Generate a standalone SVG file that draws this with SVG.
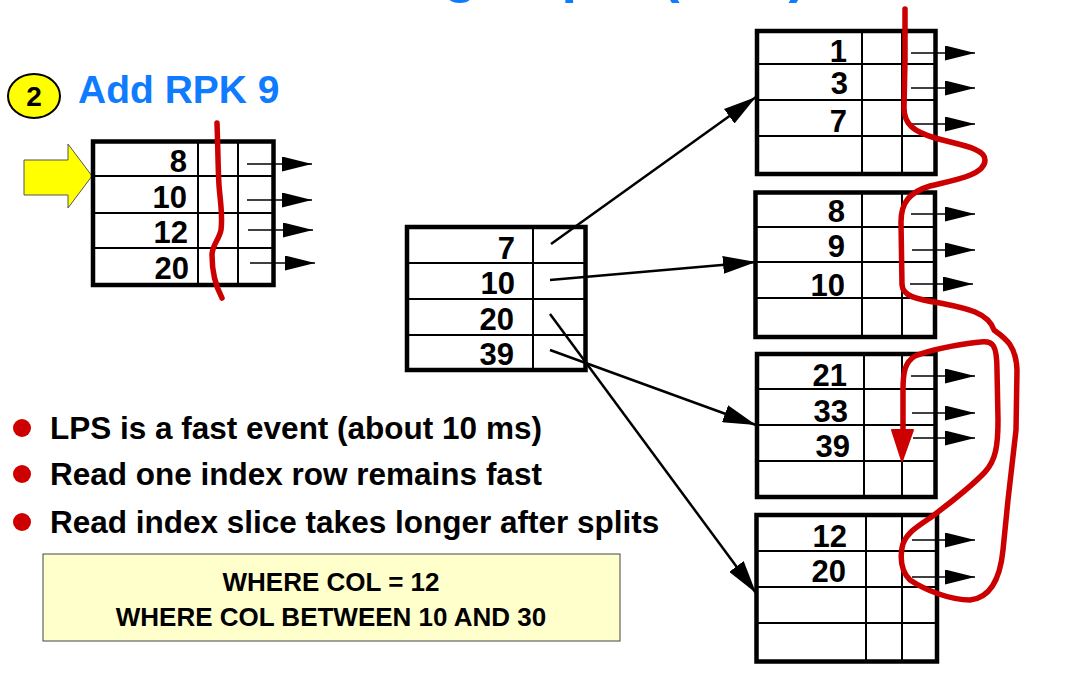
<svg xmlns="http://www.w3.org/2000/svg" width="1073" height="677" viewBox="0 0 1073 677">
  <defs>
    <style>
      .title { font-family: "Liberation Sans", Arial, sans-serif; font-weight: bold; fill: #0F7BFF; }
      .num { font-family: "Liberation Sans", Arial, sans-serif; font-weight: bold; font-size: 31px; fill: #000; text-anchor: end; }
      .txt { font-family: "Liberation Sans", Arial, sans-serif; font-weight: bold; fill: #000; }
      .frame { fill: #fff; stroke: #000; stroke-width: 4.5; }
      .grid { stroke: #000; stroke-width: 2; fill: none; }
      .link { stroke: #000; stroke-width: 2.5; fill: none; marker-end: url(#bigHead); }
      .ptr { stroke: #000; stroke-width: 1.5; fill: none; marker-end: url(#smallHead); }
      .pen { stroke: #CC0000; stroke-width: 5.5; fill: none; stroke-linecap: round; stroke-linejoin: round; }
    </style>
    <marker id="bigHead" markerUnits="userSpaceOnUse" markerWidth="34" markerHeight="18" refX="33" refY="9" orient="auto">
      <path d="M0,0 L33,9 L0,18 Z" fill="#000"/>
    </marker>
    <marker id="smallHead" markerUnits="userSpaceOnUse" markerWidth="31" markerHeight="16" refX="30" refY="7.5" orient="auto">
      <path d="M0,0 L30,7.5 L0,15 Z" fill="#000"/>
    </marker>
  </defs>

  <rect width="1073" height="677" fill="#fff"/>

  <!-- heading, mostly above the top edge -->
  <text class="title" x="244" y="-9" font-size="56">Leaf Page Split (LPS)</text>

  <!-- step badge and caption -->
  <g id="step-badge">
    <ellipse cx="34" cy="96" rx="26" ry="22" fill="#FFFF00" stroke="#000" stroke-width="2"/>
    <text class="txt" x="34" y="106" font-size="28" text-anchor="middle">2</text>
  </g>
  <text class="title" x="78" y="103" font-size="39">Add RPK 9</text>

  <!-- insert pointer -->
  <g id="insert-arrow">
    <polygon points="24,160 68,160 68,144 92,176 68,208 68,195 24,195" fill="#FFFF00" stroke="#555" stroke-width="1"/>
  </g>

  <!-- page receiving the new key -->
  <g id="page-insert">
    <rect class="frame" x="93" y="141.5" width="180.5" height="143.5"/>
    <path class="grid" d="M93,176 H273.5 M93,213 H273.5 M93,248 H273.5 M198,141.5 V285 M238,141.5 V285"/>
    <text class="num" x="187" y="172">8</text>
    <text class="num" x="187" y="208">10</text>
    <text class="num" x="188" y="243">12</text>
    <text class="num" x="189" y="279">20</text>
    <line class="ptr" x1="247" y1="164" x2="312" y2="164"/>
    <line class="ptr" x1="247" y1="200" x2="312" y2="200"/>
    <line class="ptr" x1="248" y1="230" x2="313" y2="230"/>
    <line class="ptr" x1="250" y1="263" x2="315" y2="263"/>
  </g>

  <!-- non-leaf page -->
  <g id="page-nonleaf">
    <rect class="frame" x="407" y="227" width="178.5" height="143"/>
    <path class="grid" d="M407,263 H585.5 M407,299 H585.5 M407,335 H585.5 M533,227 V370"/>
    <text class="num" x="515" y="259">7</text>
    <text class="num" x="515" y="294">10</text>
    <text class="num" x="514" y="330">20</text>
    <text class="num" x="514" y="365">39</text>
  </g>

  <!-- leaf pages -->
  <g id="leaf-1">
    <rect class="frame" x="757" y="31" width="178.5" height="143"/>
    <path class="grid" d="M757,64 H935.5 M757,100 H935.5 M757,136 H935.5 M862,31 V174 M902,31 V174"/>
    <text class="num" x="847" y="62">1</text>
    <text class="num" x="848" y="94">3</text>
    <text class="num" x="847" y="132">7</text>
    <line class="ptr" x1="911" y1="53" x2="975" y2="53"/>
    <line class="ptr" x1="911" y1="88" x2="975" y2="88"/>
    <line class="ptr" x1="911" y1="124" x2="975" y2="124"/>
  </g>

  <g id="leaf-2">
    <rect class="frame" x="755.5" y="192.5" width="179.5" height="144.5"/>
    <path class="grid" d="M755.5,227 H935 M755.5,262 H935 M755.5,298 H935 M862,192.5 V337 M902,192.5 V337"/>
    <text class="num" x="845" y="222">8</text>
    <text class="num" x="845" y="257">9</text>
    <text class="num" x="845" y="296">10</text>
    <line class="ptr" x1="911" y1="214" x2="975" y2="214"/>
    <line class="ptr" x1="912" y1="250" x2="975" y2="250"/>
    <line class="ptr" x1="910" y1="284" x2="973" y2="284"/>
  </g>

  <g id="leaf-3">
    <rect class="frame" x="757" y="354" width="178.5" height="143"/>
    <path class="grid" d="M757,389 H935.5 M757,425 H935.5 M757,461 H935.5 M864,354 V497 M902,354 V497"/>
    <text class="num" x="847" y="386">21</text>
    <text class="num" x="848" y="422">33</text>
    <text class="num" x="850" y="457">39</text>
    <line class="ptr" x1="911" y1="376" x2="975" y2="376"/>
    <line class="ptr" x1="912" y1="413" x2="975" y2="413"/>
    <line class="ptr" x1="913" y1="438" x2="975" y2="438"/>
  </g>

  <g id="leaf-4">
    <rect class="frame" x="756.5" y="515" width="180.5" height="146.5"/>
    <path class="grid" d="M756.5,551 H937 M756.5,587 H937 M756.5,623 H937 M866,515 V661.5 M902,515 V661.5"/>
    <text class="num" x="847" y="547">12</text>
    <text class="num" x="846" y="582">20</text>
    <line class="ptr" x1="912" y1="540" x2="975" y2="540"/>
    <line class="ptr" x1="912" y1="577" x2="975" y2="577"/>
  </g>

  <!-- pointers from the non-leaf page to the leaves -->
  <g id="connectors">
    <line class="link" x1="551" y1="244" x2="756" y2="97"/>
    <line class="link" x1="550" y1="280" x2="756" y2="262"/>
    <line class="link" x1="550" y1="314" x2="756" y2="593"/>
    <line class="link" x1="550" y1="350" x2="756" y2="425"/>
  </g>

  <!-- hand-drawn scan paths -->
  <g id="scan-marks">
    <path class="pen" d="M217,123 C218,150 218,170 219,185 C220,200 223,215 221,230 C219,240 212,245 212,255 C212,268 215,285 222,298"/>
    <path class="pen" d="M905,9 L905,60 L904,108 C904,125 915,132 935,138 C960,145 985,148 985,160 C985,175 955,180 930,186 C910,192 901,202 901,222 L902,285 C903,296 915,299 940,303 C965,308 988,312 994,330 C1005,338 1016,345 1017,370 L1016,430 L1008,500 L1003,550 C1000,580 990,598 970,600 C950,600 925,590 910,580 C902,572 900,560 902,548 C904,535 915,528 930,518 C950,503 970,488 985,472 C996,460 998,445 998,420 L997,370 C997,345 993,340 980,342 C955,345 930,350 915,356 C905,362 903,372 903,390 L903,432"/>
    <polygon points="892,430 913,430 902,461" fill="#CC0000" stroke="#CC0000" stroke-width="2" stroke-linejoin="round"/>
  </g>

  <!-- notes -->
  <g id="notes">
    <circle cx="22" cy="428" r="9" fill="#CC0000"/>
    <text class="txt" x="50" y="439" font-size="31.5">LPS is a fast event (about 10 ms)</text>
    <circle cx="22" cy="474" r="9" fill="#CC0000"/>
    <text class="txt" x="50" y="485" font-size="31.5">Read one index row remains fast</text>
    <circle cx="22" cy="522" r="9" fill="#CC0000"/>
    <text class="txt" x="50" y="533" font-size="31.5">Read index slice takes longer after splits</text>
  </g>

  <g id="query-box">
    <rect x="43" y="554" width="577" height="87" fill="#FFFFCC" stroke="#444" stroke-width="1"/>
    <text class="txt" x="331" y="591" font-size="26" text-anchor="middle">WHERE COL = 12</text>
    <text class="txt" x="331" y="626" font-size="26" text-anchor="middle">WHERE COL BETWEEN 10 AND 30</text>
  </g>
</svg>
